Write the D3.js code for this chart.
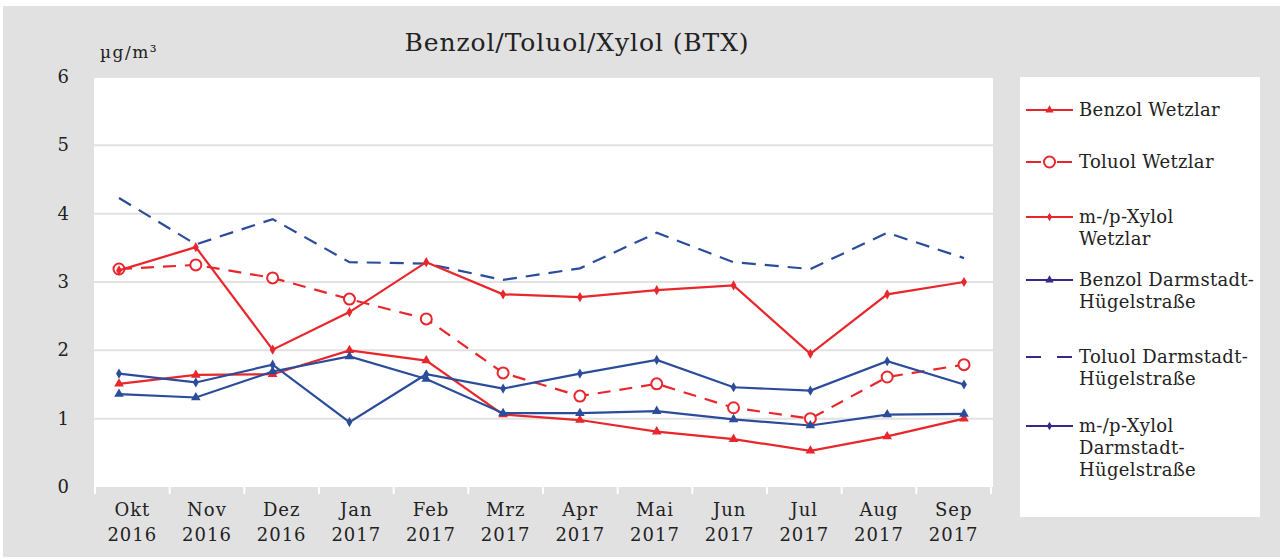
<!DOCTYPE html>
<html><head><meta charset="utf-8">
<script src="https://cdn.jsdelivr.net/npm/d3@7"></script>
<style>
html,body{margin:0;padding:0;background:#fff;}
svg{display:block;}
text{font-family:"DejaVu Serif",serif;fill:#222;}
</style></head>
<body>
<svg id="chart" width="1280" height="559"></svg>
<script>
const months = ["Okt","Nov","Dez","Jan","Feb","Mrz","Apr","Mai","Jun","Jul","Aug","Sep"];
const years  = ["2016","2016","2016","2017","2017","2017","2017","2017","2017","2017","2017","2017"];
const yTicks = [0,1,2,3,4,5,6];

const benzolWetzlar    = [1.51,1.64,1.65,2.00,1.85,1.06,0.98,0.81,0.70,0.53,0.74,1.00];
const toluolWetzlar    = [3.19,3.25,3.06,2.75,2.46,1.67,1.33,1.51,1.16,1.00,1.61,1.79];
const xylolWetzlar     = [3.17,3.51,2.01,2.56,3.29,2.82,2.78,2.88,2.95,1.95,2.82,3.00];
const benzolDarmstadt  = [1.36,1.31,1.69,1.91,1.58,1.08,1.08,1.11,0.99,0.90,1.06,1.07];
const toluolDarmstadt  = [4.23,3.55,3.92,3.29,3.27,3.03,3.20,3.72,3.29,3.19,3.72,3.35];
const xylolDarmstadt   = [1.66,1.53,1.79,0.95,1.65,1.44,1.66,1.86,1.46,1.41,1.84,1.50];

const seriesNames = [
  ["Benzol Wetzlar"],
  ["Toluol Wetzlar"],
  ["m-/p-Xylol","Wetzlar"],
  ["Benzol Darmstadt-","Hügelstraße"],
  ["Toluol Darmstadt-","Hügelstraße"],
  ["m-/p-Xylol","Darmstadt-","Hügelstraße"]
];

const RED = "#e8262b", BLUE = "#2b4c9b", LEGBLUE = "#37288a";
const series = [
  {values: benzolWetzlar,   color: RED,  legend: RED,     dash: null,   marker: "triangle"},
  {values: toluolWetzlar,   color: RED,  legend: RED,     dash: "13,9", marker: "circle"},
  {values: xylolWetzlar,    color: RED,  legend: RED,     dash: null,   marker: "diamond"},
  {values: benzolDarmstadt, color: BLUE, legend: LEGBLUE, dash: null,   marker: "triangle"},
  {values: toluolDarmstadt, color: BLUE, legend: LEGBLUE, dash: "14,9", marker: "none"},
  {values: xylolDarmstadt,  color: BLUE, legend: LEGBLUE, dash: null,   marker: "diamond"}
];

const svg = d3.select("#chart");
svg.append("rect").attr("x",3).attr("y",6).attr("width",1277).attr("height",551).attr("fill","#e1e1e1");
const plot = {left:94, right:993, top:77, bottom:487};
svg.append("rect").attr("x",plot.left).attr("y",plot.top)
  .attr("width",plot.right-plot.left).attr("height",plot.bottom-plot.top).attr("fill","#fff");

const y = d3.scaleLinear().domain([0,6]).range([plot.bottom, plot.top]);
const xPts = d3.scalePoint().domain(months).range([119, 964]);
const xBand = d3.scaleBand().domain(months).range([95, 991]);

svg.append("g").selectAll("line").data(yTicks.filter(d=>d>0)).join("line")
  .attr("x1",plot.left).attr("x2",plot.right)
  .attr("y1",d=>y(d)).attr("y2",d=>y(d))
  .attr("stroke","#e2e2e2").attr("stroke-width",2);

svg.append("g").selectAll("text").data(yTicks).join("text")
  .attr("x",69).attr("y",d=>y(d)+6).attr("text-anchor","end")
  .attr("font-size",18).text(d=>d);

svg.append("text").attr("x",100).attr("y",58).attr("font-size",17)
  .attr("letter-spacing",1.5).text("µg/m³");

svg.append("text").attr("x",577).attr("y",51).attr("text-anchor","middle")
  .attr("font-size",25).attr("letter-spacing",0.9).text("Benzol/Toluol/Xylol (BTX)");

const tickPos = months.map(m=>xBand(m)).concat([xBand.range()[1]]);
svg.append("g").selectAll("line").data(tickPos).join("line")
  .attr("x1",d=>d).attr("x2",d=>d).attr("y1",plot.bottom).attr("y2",plot.bottom+7)
  .attr("stroke","#fff").attr("stroke-width",2);

const cx = m=>xBand(m)+xBand.bandwidth()/2;
const xl = svg.append("g").selectAll("text").data(months).join("text")
  .attr("text-anchor","middle").attr("font-size",18).attr("letter-spacing",1);
xl.append("tspan").attr("x",cx).attr("y",516).text(m=>m);
xl.append("tspan").attr("x",cx).attr("y",541).text((m,i)=>years[i]);

const line = d3.line().x((d,i)=>xPts(months[i])).y(d=>y(d));
function drawMarker(g, type, color, size){
  if(type==="triangle") g.append("path").attr("d",d3.symbol(d3.symbolTriangle, size||40)()).attr("fill",color);
  else if(type==="diamond") g.append("path").attr("d",d3.symbol(d3.symbolDiamond, size||30)()).attr("fill",color);
  else if(type==="circle") g.append("circle").attr("r",5.5).attr("fill","#fff").attr("stroke",color).attr("stroke-width",2);
}
const order = [4,1,2,0,3,5];
order.forEach(si=>{
  const s = series[si];
  svg.append("path").attr("d",line(s.values)).attr("fill","none")
    .attr("stroke",s.color).attr("stroke-width",2.2)
    .attr("stroke-dasharray",s.dash);
  s.values.forEach((v,i)=>{
    const g = svg.append("g").attr("transform",`translate(${xPts(months[i])},${y(v)})`);
    drawMarker(g, s.marker, s.color);
  });
});

svg.append("rect").attr("x",1020).attr("y",77).attr("width",240).attr("height",440).attr("fill","#fff");
const legendY = [110,162,217,280,357,426];
series.forEach((s,i)=>{
  const ly = legendY[i];
  svg.append("line").attr("x1",1026).attr("x2",1073).attr("y1",ly).attr("y2",ly)
    .attr("stroke",s.legend).attr("stroke-width",2.2).attr("stroke-dasharray", s.dash ? "15,16" : null);
  const g = svg.append("g").attr("transform",`translate(1049.5,${ly})`);
  drawMarker(g, s.marker, s.legend, s.marker==="triangle"?30:22);
  const t = svg.append("text").attr("font-size",18).attr("letter-spacing",0.3);
  seriesNames[i].forEach((nm,k)=>{
    t.append("tspan").attr("x",1079).attr("y",ly+6+k*22).text(nm);
  });
});
</script>
</body></html>
